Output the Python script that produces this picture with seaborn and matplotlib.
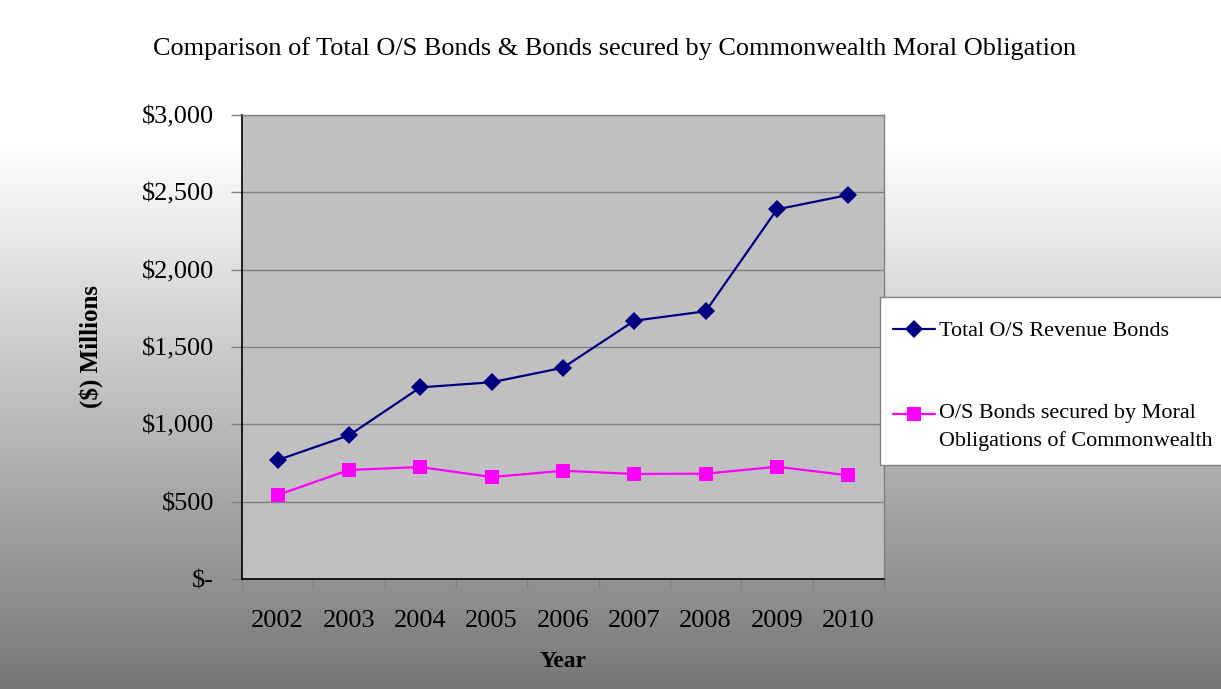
import numpy as np
import pandas as pd
import matplotlib
matplotlib.use("Agg")
import matplotlib.pyplot as plt
from matplotlib.ticker import FixedLocator, FuncFormatter
from matplotlib.patches import Rectangle
from matplotlib.legend_handler import HandlerLine2D
import seaborn as sns

# --- data ($ millions) ---
years = [2002, 2003, 2004, 2005, 2006, 2007, 2008, 2009, 2010]
total_bonds = [769, 929, 1239, 1272, 1366, 1670, 1731, 2390, 2483]
moral_bonds = [543, 705, 724, 659, 700, 679, 681, 726, 670]

label_total = "Total O/S Revenue Bonds"
label_moral = "O/S Bonds secured by Moral\nObligations of Commonwealth"
title = "Comparison of Total O/S Bonds & Bonds secured by Commonwealth Moral Obligation"

df = pd.DataFrame({
    "year": years * 2,
    "value": total_bonds + moral_bonds,
    "series": [label_total] * len(years) + [label_moral] * len(years),
})

sns.set_theme(style="white")
plt.rcParams["font.family"] = ["Liberation Serif", "DejaVu Serif"]
plt.rcParams["text.color"] = "black"
plt.rcParams["axes.labelcolor"] = "black"
plt.rcParams["xtick.color"] = "black"
plt.rcParams["ytick.color"] = "black"

W, H = 1221, 689
fig = plt.figure(figsize=(W / 100, H / 100), dpi=100)

# gradient background (white at top -> grey at bottom)
bg = fig.add_axes([0, 0, 1, 1], zorder=-10)
rows = np.arange(H)
shade = np.interp(rows, [0, 140, H], [255, 255, 118]) / 255.0
bg.imshow(np.repeat(shade[:, None], 2, axis=1), cmap="gray", vmin=0, vmax=1,
          aspect="auto", extent=[0, 1, 0, 1])
bg.set_axis_off()

ax = fig.add_axes([242 / W, 1 - 579 / H, (884 - 242) / W, (579 - 115) / H])
ax.set_facecolor("#C0C0C0")

sns.lineplot(data=df, x="year", y="value", hue="series", style="series",
             palette={label_total: "#000080", label_moral: "#FF00FF"},
             markers={label_total: "D", label_moral: "s"},
             dashes=False, markersize=9.5, linewidth=1.6,
             markeredgewidth=0, ax=ax, zorder=3)

ax.set_xlim(years[0] - 0.5, years[-1] + 0.5)
ax.set_ylim(0, 3000)
ax.set_yticks(range(0, 3001, 500))
ax.yaxis.set_major_formatter(FuncFormatter(lambda v, p: "$-" if v == 0 else f"${v:,.0f}"))
ax.set_xticks(years)
ax.set_xticklabels([str(y) for y in years])
ax.xaxis.set_minor_locator(FixedLocator([y + 0.5 for y in [years[0] - 1] + years]))

ax.grid(axis="y", color="#808080", linewidth=1)
ax.set_axisbelow(True)
ax.tick_params(axis="x", which="major", length=0, pad=22, labelsize=19, labelcolor="black")
ax.tick_params(axis="x", which="minor", length=7, width=1, color="#808080", bottom=True)
ax.tick_params(axis="y", length=8, width=1, color="#808080", left=True, pad=12,
               labelsize=19, labelcolor="black")

for side in ["left", "bottom"]:
    ax.spines[side].set_color("black")
    ax.spines[side].set_linewidth(1.2)
for side in ["top", "right"]:
    ax.spines[side].set_color("#808080")
    ax.spines[side].set_linewidth(1)
    ax.spines[side].set_visible(True)

ax.set_xlabel("Year", fontsize=17, fontweight="bold", labelpad=14, color="black")
ax.set_ylabel("($) Millions", fontsize=18, fontweight="bold", labelpad=28, color="black")

fig.text(615 / W, 1 - 49 / H, title, ha="center", va="center", fontsize=18.9)


# legend handle sits on the first line of a two-line label
class FirstLineHandler(HandlerLine2D):
    def __init__(self, shift, **kw):
        super().__init__(**kw)
        self.shift = shift

    def create_artists(self, legend, orig_handle, xdescent, ydescent, width, height, fontsize, trans):
        return super().create_artists(legend, orig_handle, xdescent, ydescent - 2 * self.shift,
                                      width, height, fontsize, trans)


# legend box (runs off the right edge like the original)
box = Rectangle((880 / W, 1 - 465 / H), 400 / W, (465 - 297) / H, transform=fig.transFigure,
                facecolor="white", edgecolor="#808080", linewidth=1, clip_on=False, zorder=4)
ax.add_patch(box)

handles, labels = ax.get_legend_handles_labels()
leg = ax.legend(handles, labels, loc="upper left", bbox_to_anchor=(893 / W, 1 - 321 / H),
                bbox_transform=fig.transFigure, frameon=False,
                fontsize=15.9, labelspacing=2.85, handlelength=1.9, handletextpad=0.2,
                borderpad=0, borderaxespad=0,
                handler_map={handles[1]: FirstLineHandler(9.4)})
leg.set_zorder(5)
for t in leg.get_texts():
    t.set_linespacing(1.5)
    t.set_color("black")

fig.savefig("out.png", dpi=100)
